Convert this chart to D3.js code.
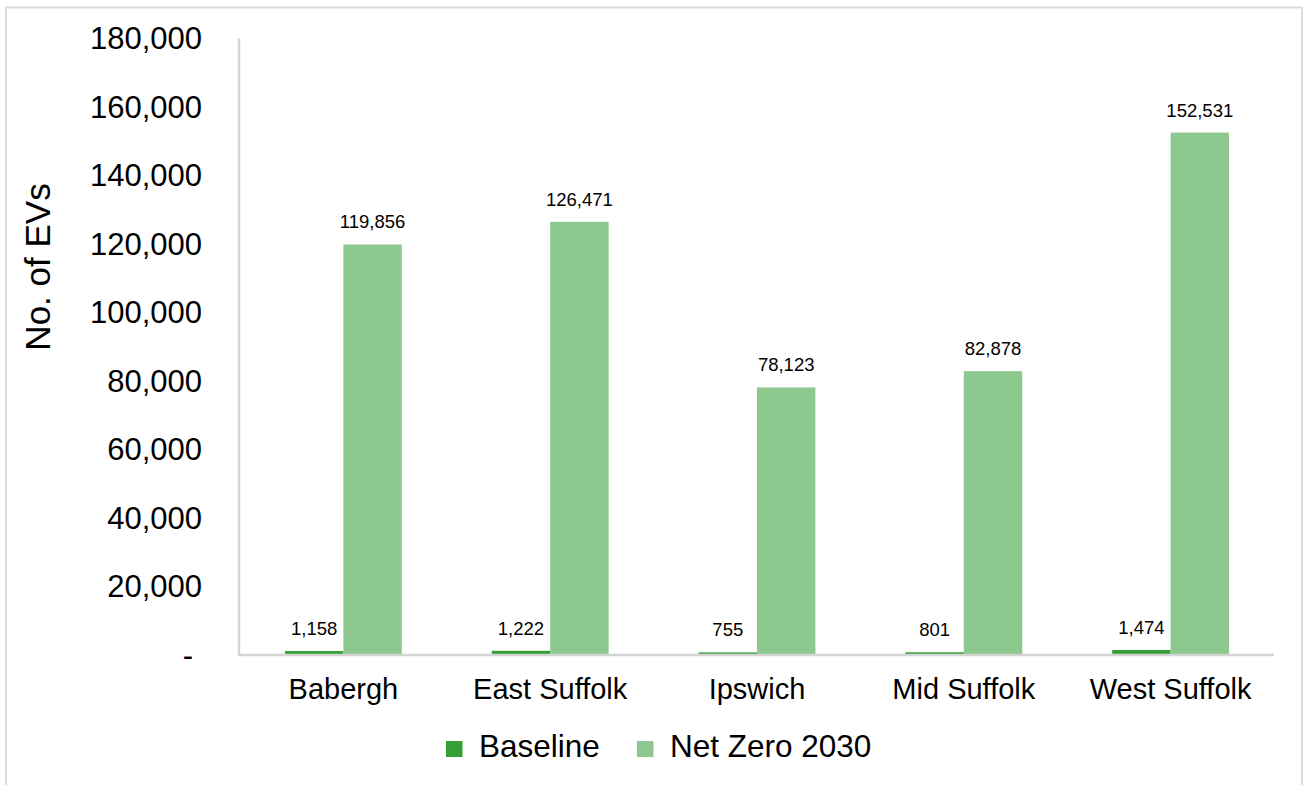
<!DOCTYPE html>
<html>
<head>
<meta charset="utf-8">
<script src="https://cdn.jsdelivr.net/npm/d3@7"></script>
<style>
  html, body { margin: 0; padding: 0; background: #ffffff; }
  svg { display: block; font-family: "Liberation Sans", Arial, sans-serif; }
</style>
</head>
<body>
<svg id="chart" width="1303" height="785"></svg>
<script>
// Electric vehicle numbers by Suffolk district
const districts = ["Babergh", "East Suffolk", "Ipswich", "Mid Suffolk", "West Suffolk"];
const baseline = [1158, 1222, 755, 801, 1474];
const netZero2030 = [119856, 126471, 78123, 82878, 152531];
const seriesNames = ["Baseline", "Net Zero 2030"];
const yTicks = [0, 20000, 40000, 60000, 80000, 100000, 120000, 140000, 160000, 180000];

const colors = ["#33a036", "#8dc98e"];
const width = 1303, height = 785;
const plot = { left: 240, right: 1274, top: 38.5, bottom: 655 };

const svg = d3.select("#chart");

// Outer frame
svg.append("path")
  .attr("d", `M6,786 V7.5 H1302 V786`)
  .attr("fill", "none")
  .attr("stroke", "#dcdcdc")
  .attr("stroke-width", 2);

const x = d3.scaleBand().domain(districts).range([plot.left, plot.right]).paddingInner(0).paddingOuter(0);
// Two bars per district, side by side, with a wide gap between districts
const x1 = d3.scaleBand().domain(seriesNames).range([0, x.bandwidth()]).paddingOuter(0.77).paddingInner(0);
const y = d3.scaleLinear().domain([0, 180000]).range([plot.bottom, plot.top]);

const fmt = d3.format(",");

// Y axis tick labels
const yAxis = d3.axisLeft(y).tickValues(yTicks).tickSize(0).tickPadding(0)
  .tickFormat(d => d === 0 ? "-" : fmt(d));
const gy = svg.append("g").attr("transform", `translate(${plot.left},0)`).call(yAxis);
gy.select(".domain").remove();
gy.selectAll(".tick text")
  .attr("x", d => d === 0 ? -47 : -38)
  .attr("dy", "0.33em")
  .attr("font-size", 31)
  .attr("font-family", "'Liberation Sans', Arial, sans-serif")
  .attr("fill", "#000");

// Bars
const groups = svg.append("g").selectAll("g")
  .data(districts)
  .join("g")
  .attr("transform", d => `translate(${x(d)},0)`);

const rows = districts.map((d, i) => [
  { key: seriesNames[0], value: baseline[i], color: colors[0] },
  { key: seriesNames[1], value: netZero2030[i], color: colors[1] }
]);

groups.selectAll("rect")
  .data((d, i) => rows[i])
  .join("rect")
  .attr("x", d => x1(d.key))
  .attr("width", x1.bandwidth())
  .attr("y", d => y(d.value))
  .attr("height", d => y(0) - y(d.value))
  .attr("fill", d => d.color);

groups.selectAll("text.val")
  .data((d, i) => rows[i])
  .join("text")
  .attr("class", "val")
  .attr("x", d => x1(d.key) + x1.bandwidth() / 2)
  .attr("y", d => y(d.value) - 16)
  .attr("text-anchor", "middle")
  .attr("font-size", 18.5)
  .attr("fill", "#000")
  .text(d => fmt(d.value));

// Axis lines
svg.append("line")
  .attr("x1", plot.left - 1).attr("x2", plot.left - 1)
  .attr("y1", plot.top).attr("y2", plot.bottom + 1)
  .attr("stroke", "#d4d4d4").attr("stroke-width", 2.5);
svg.append("line")
  .attr("x1", plot.left - 2).attr("x2", plot.right)
  .attr("y1", plot.bottom).attr("y2", plot.bottom)
  .attr("stroke", "#d4d4d4").attr("stroke-width", 2.5);

// Category labels
const xAxis = d3.axisBottom(x).tickSize(0).tickPadding(0);
const gx = svg.append("g").attr("transform", `translate(0,${plot.bottom})`).call(xAxis);
gx.select(".domain").remove();
gx.selectAll(".tick text")
  .attr("y", 44)
  .attr("dy", 0)
  .attr("font-size", 29)
  .attr("font-family", "'Liberation Sans', Arial, sans-serif")
  .attr("fill", "#000");

// Y axis title
svg.append("text")
  .attr("transform", "translate(50,267) rotate(-90)")
  .attr("text-anchor", "middle")
  .attr("font-size", 35)
  .attr("fill", "#000")
  .text("No. of EVs");

// Legend
const legendItems = [
  { name: seriesNames[0], color: colors[0], x: 446 },
  { name: seriesNames[1], color: colors[1], x: 637 }
];
const legend = svg.append("g");
legend.selectAll("rect")
  .data(legendItems)
  .join("rect")
  .attr("x", d => d.x).attr("y", 741)
  .attr("width", 16.5).attr("height", 16)
  .attr("fill", d => d.color);
legend.selectAll("text")
  .data(legendItems)
  .join("text")
  .attr("x", d => d.x + 33)
  .attr("y", 757)
  .attr("font-size", 31.5)
  .attr("fill", "#000")
  .text(d => d.name);
</script>
</body>
</html>
